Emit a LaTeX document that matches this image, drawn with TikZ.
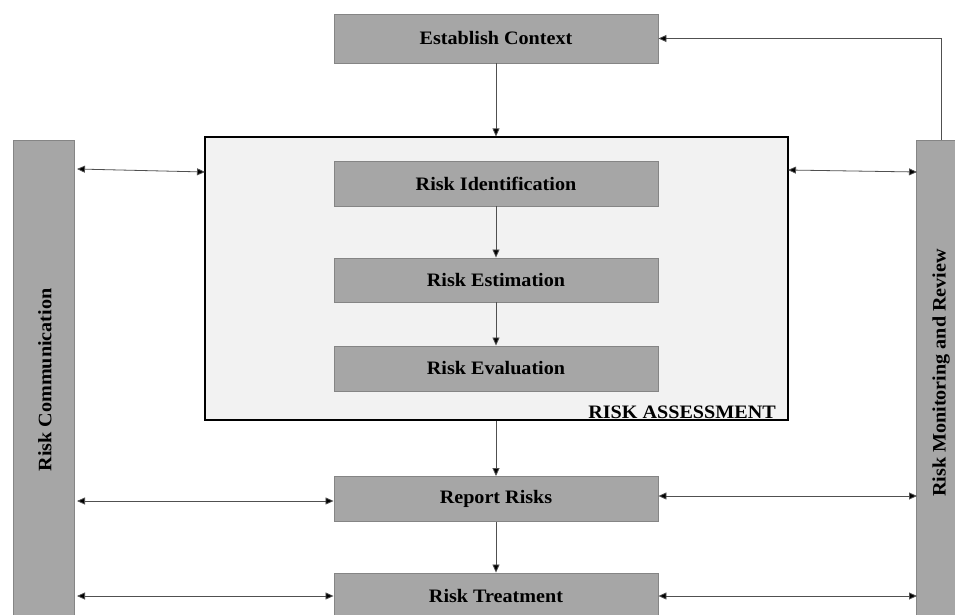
\documentclass[tikz,border=0pt]{standalone}
\usepackage{fontspec}
\setmainfont{Liberation Serif}[FakeStretch=1.06]
\usetikzlibrary{arrows.meta,calc}
\definecolor{boxgray}{HTML}{A6A6A6}
\definecolor{boxline}{HTML}{858585}
\definecolor{panel}{HTML}{F2F2F2}
\definecolor{conn}{HTML}{505050}
\begin{document}
\begin{tikzpicture}[x=1pt,y=-1pt,
  graybox/.style={draw=boxline,line width=0.9pt,fill=boxgray,minimum width=324pt,minimum height=45pt,
    inner sep=0pt,font=\fontsize{19}{22}\selectfont\bfseries},
  sidebar/.style={draw=boxline,line width=0.9pt,fill=boxgray,inner sep=0pt},
  arr/.style={draw=conn,line width=0.8pt,-{Triangle[length=8pt,width=7pt,fill=black]}},
  darr/.style={draw=conn,line width=0.8pt,{Triangle[length=8pt,width=7pt,fill=black]}-{Triangle[length=8pt,width=7pt,fill=black]}}]
\useasboundingbox (0,0) rectangle (955,615);
\begin{scope}
\clip (0,0) rectangle (955,615);
% assessment panel
\node[draw=black,line width=1.2pt,fill=panel,minimum width=583pt,minimum height=283pt,inner sep=0pt] (ra) at (496.5,278.5) {};
\node[font=\fontsize{19}{22}\selectfont\bfseries,anchor=base east,inner sep=0pt] (ralabel) at (776,418) {RISK ASSESSMENT};
% boxes
\node[graybox,minimum height=49pt] (ec) at (496,38.5) {Establish Context};
\node[graybox] (ri) at (496,183.5) {Risk Identification};
\node[graybox,minimum height=44pt] (rest) at (496,280) {Risk Estimation};
\node[graybox] (reval) at (496,368.5) {Risk Evaluation};
\node[graybox] (rr) at (496,499) {Report Risks};
\node[graybox] (rt) at (496,595.5) {Risk Treatment};
% side bars
\node[sidebar,minimum width=61pt,minimum height=480pt] (lc) at (43.5,380) {};
\node[rotate=90,font=\fontsize{19}{22}\selectfont\bfseries,inner sep=0pt] (lct) at (45,380) {Risk Communication};
\node[sidebar,minimum width=50pt,minimum height=480pt] (rm) at (941,380) {};
\node[rotate=90,font=\fontsize{19}{22}\selectfont\bfseries,inner sep=0pt] (rmt) at (941,373) {Risk Monitoring and Review};
% coordinates
\coordinate (l1) at (77,169);
\coordinate (l2) at (205,172);
\coordinate (r1) at (788,170);
\coordinate (r2) at (917,172);
\coordinate (l3) at (77,501);
\coordinate (l4) at (77,596);
\coordinate (rm3) at (917,496);
\coordinate (rm4) at (917,596);
% connectors
\draw[arr] (ec.south) -- (ra.north -| ec.south);
\draw[arr] (ri) -- (rest);
\draw[arr] (rest) -- (reval);
\draw[arr] (ra.south -| rr.north) -- (rr.north);
\draw[arr] (rr) -- (rt);
\draw[arr] (rm.north) |- (ec.east);
\draw[darr] (l1) -- (l2);
\draw[darr] (r1) -- (r2);
\draw[darr] (l3) -- (rr.west |- l3);
\draw[darr] (l4) -- (rt.west |- l4);
\draw[darr] (rr.east |- rm3) -- (rm3);
\draw[darr] (rt.east |- rm4) -- (rm4);
\end{scope}
\end{tikzpicture}
\end{document}
